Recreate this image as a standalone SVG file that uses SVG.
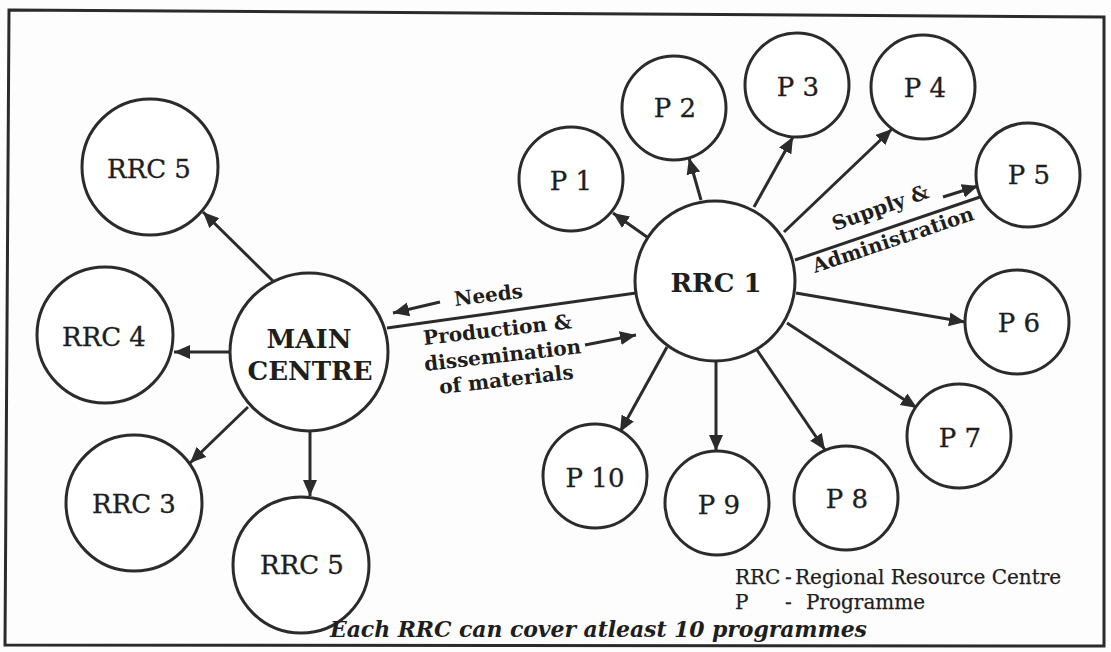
<svg xmlns="http://www.w3.org/2000/svg" width="1111" height="652" viewBox="0 0 1111 652">
  <style>
    .node { fill: #ffffff; stroke: #2b2b2b; stroke-width: 3; }
    .lbl { font-family: "DejaVu Serif", "Liberation Serif", serif; font-size: 26px; fill: #1e1e1e; stroke: #1e1e1e; stroke-width: 0.35; text-anchor: middle; }
    .bold { font-weight: bold; stroke-width: 0; }
    .edge { stroke: #2b2b2b; stroke-width: 3; fill: none; }
    .arrow { stroke: #2b2b2b; stroke-width: 3; fill: none; marker-end: url(#head); }
    .note { font-family: "DejaVu Serif", "Liberation Serif", serif; font-size: 20px; font-weight: bold; fill: #1e1e1e; }
    .caption { font-size: 22px; font-style: italic; }
    .legend { font-family: "DejaVu Serif", "Liberation Serif", serif; font-size: 20px; fill: #1e1e1e; stroke: #1e1e1e; stroke-width: 0.25; }
  </style>
  <defs>
    <marker id="head" markerUnits="userSpaceOnUse" markerWidth="17" markerHeight="15" refX="16" refY="7" orient="auto">
      <path d="M0,0 L16,7 L0,14 Z" fill="#2b2b2b"/>
    </marker>
  </defs>

  <rect x="0" y="0" width="1111" height="652" fill="#fdfdfd"/>

  <!-- outer frame -->
  <path d="M9,10 L1104,17 L1104,646 L5,645 Z" fill="none" stroke="#2b2b2b" stroke-width="3"/>

  <!-- connectors -->
  <g id="connectors">
    <!-- main centre to regional centres -->
    <line class="arrow" x1="273" y1="281" x2="203" y2="212"/>
    <line class="arrow" x1="230" y1="352" x2="174" y2="352"/>
    <line class="arrow" x1="248" y1="407" x2="190" y2="463"/>
    <line class="arrow" x1="310" y1="432" x2="310" y2="496"/>
    <!-- main centre to RRC 1 -->
    <line class="edge" x1="387" y1="328" x2="636" y2="293"/>
    <line class="arrow" x1="440" y1="302" x2="393" y2="313"/>
    <line class="arrow" x1="585" y1="345" x2="636" y2="335"/>
    <!-- RRC 1 to programmes -->
    <line class="arrow" x1="647" y1="237" x2="613" y2="213"/>
    <line class="arrow" x1="701" y1="200" x2="689" y2="158"/>
    <line class="arrow" x1="754" y1="207" x2="793" y2="137"/>
    <line class="arrow" x1="784" y1="232" x2="892" y2="129"/>
    <line class="edge" x1="795" y1="260" x2="980" y2="197"/>
    <line class="arrow" x1="943" y1="197" x2="978" y2="186"/>
    <line class="arrow" x1="796" y1="293" x2="965" y2="322"/>
    <line class="arrow" x1="787" y1="323" x2="917" y2="408"/>
    <line class="arrow" x1="757" y1="350" x2="825" y2="450"/>
    <line class="arrow" x1="716" y1="361" x2="716" y2="451"/>
    <line class="arrow" x1="667" y1="347" x2="620" y2="432"/>
  </g>

  <!-- connector labels -->
  <text class="note" transform="translate(455,306) rotate(-7)">Needs</text>
  <text class="note" transform="translate(424,345) rotate(-6.5)">Production &amp;</text>
  <text class="note" transform="translate(425,371) rotate(-6.5)">dissemination</text>
  <text class="note" transform="translate(440,394) rotate(-6.5)">of materials</text>
  <text class="note" transform="translate(835,231) rotate(-19.5)">Supply &amp;</text>
  <text class="note" transform="translate(815,273) rotate(-18.5)">Administration</text>

  <!-- regional side -->
  <g id="main-centre">
    <circle class="node" cx="309" cy="352" r="79"/>
    <text class="lbl bold" x="309" y="348">MAIN</text>
    <text class="lbl bold" x="310" y="380">CENTRE</text>
  </g>
  <g id="rrc5-top">
    <circle class="node" cx="150" cy="167" r="68"/>
    <text class="lbl" x="149" y="178">RRC 5</text>
  </g>
  <g id="rrc4">
    <circle class="node" cx="105" cy="335" r="68"/>
    <text class="lbl" x="104" y="346">RRC 4</text>
  </g>
  <g id="rrc3">
    <circle class="node" cx="134" cy="503" r="68"/>
    <text class="lbl" x="134" y="513">RRC 3</text>
  </g>
  <g id="rrc5-bottom">
    <circle class="node" cx="301" cy="565" r="68"/>
    <text class="lbl" x="302" y="574">RRC 5</text>
  </g>

  <!-- RRC 1 and its programmes -->
  <g id="rrc1">
    <circle class="node" cx="715" cy="281" r="80"/>
    <text class="lbl bold" x="716" y="292">RRC 1</text>
  </g>
  <g id="p1">
    <circle class="node" cx="571" cy="179" r="52"/>
    <text class="lbl" x="571" y="190">P 1</text>
  </g>
  <g id="p2">
    <circle class="node" cx="674" cy="108" r="52"/>
    <text class="lbl" x="675" y="117">P 2</text>
  </g>
  <g id="p3">
    <circle class="node" cx="797" cy="85" r="52"/>
    <text class="lbl" x="798" y="96">P 3</text>
  </g>
  <g id="p4">
    <circle class="node" cx="923" cy="87" r="52"/>
    <text class="lbl" x="925" y="97">P 4</text>
  </g>
  <g id="p5">
    <circle class="node" cx="1028" cy="175" r="52"/>
    <text class="lbl" x="1029" y="184">P 5</text>
  </g>
  <g id="p6">
    <circle class="node" cx="1017" cy="322" r="52"/>
    <text class="lbl" x="1019" y="332">P 6</text>
  </g>
  <g id="p7">
    <circle class="node" cx="959" cy="436" r="52"/>
    <text class="lbl" x="960" y="447">P 7</text>
  </g>
  <g id="p8">
    <circle class="node" cx="846" cy="498" r="52"/>
    <text class="lbl" x="847" y="508">P 8</text>
  </g>
  <g id="p9">
    <circle class="node" cx="717" cy="503" r="52"/>
    <text class="lbl" x="719" y="514">P 9</text>
  </g>
  <g id="p10">
    <circle class="node" cx="595" cy="476" r="52"/>
    <text class="lbl" x="595" y="487">P 10</text>
  </g>

  <!-- legend -->
  <text class="legend" y="584"><tspan x="735">RRC</tspan><tspan x="785">-</tspan><tspan x="795">Regional Resource Centre</tspan></text>
  <text class="legend" y="609"><tspan x="735">P</tspan><tspan x="785">-</tspan><tspan x="806">Programme</tspan></text>
  <text class="note caption" x="330" y="637" textLength="537" lengthAdjust="spacing">Each RRC can cover atleast 10 programmes</text>
</svg>
